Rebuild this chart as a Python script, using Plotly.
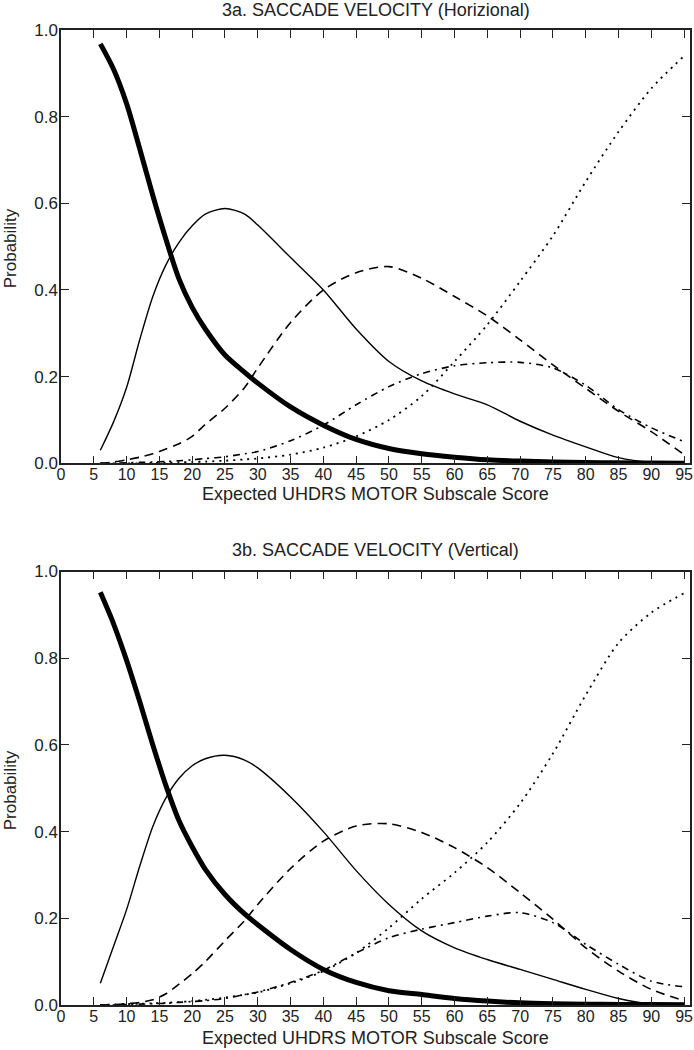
import plotly.graph_objects as go

x_vals = [6, 8, 10, 12, 14, 16, 18, 20, 22, 25, 28, 30, 35, 40, 45, 50, 55, 60, 65, 70, 75, 80, 85, 90, 95]

# Panel 3a (Horizontal)
a_cat1 = [0.968, 0.91, 0.83, 0.726, 0.618, 0.517, 0.425, 0.36, 0.31, 0.25, 0.21, 0.185, 0.13, 0.088, 0.055, 0.034, 0.022, 0.014, 0.008, 0.005, 0.003, 0.002, 0.001, 0.0005, 0.0003]
a_cat2 = [0.03, 0.095, 0.175, 0.285, 0.385, 0.458, 0.51, 0.548, 0.575, 0.588, 0.575, 0.55, 0.475, 0.40, 0.31, 0.235, 0.19, 0.16, 0.135, 0.097, 0.065, 0.038, 0.013, 0.002, 0.0]
a_cat3 = [0.0, 0.003, 0.008, 0.014, 0.022, 0.033, 0.045, 0.062, 0.09, 0.127, 0.175, 0.22, 0.325, 0.40, 0.44, 0.454, 0.427, 0.385, 0.34, 0.285, 0.227, 0.173, 0.12, 0.073, 0.02]
a_cat4 = [0.0, 0.0, 0.001, 0.002, 0.003, 0.004, 0.006, 0.008, 0.011, 0.015, 0.022, 0.027, 0.052, 0.088, 0.135, 0.177, 0.207, 0.225, 0.232, 0.233, 0.22, 0.18, 0.124, 0.082, 0.05]
a_cat5 = [0.0, 0.0, 0.0, 0.0, 0.001, 0.001, 0.002, 0.003, 0.004, 0.006, 0.009, 0.011, 0.02, 0.036, 0.062, 0.10, 0.155, 0.235, 0.32, 0.42, 0.525, 0.65, 0.765, 0.865, 0.94]

# Panel 3b (Vertical)
b_cat1 = [0.952, 0.88, 0.795, 0.70, 0.60, 0.506, 0.425, 0.365, 0.313, 0.255, 0.21, 0.185, 0.128, 0.082, 0.052, 0.033, 0.024, 0.015, 0.009, 0.005, 0.003, 0.002, 0.001, 0.001, 0.0005]
b_cat2 = [0.05, 0.135, 0.22, 0.32, 0.412, 0.478, 0.523, 0.552, 0.568, 0.576, 0.565, 0.547, 0.48, 0.40, 0.31, 0.232, 0.171, 0.132, 0.105, 0.082, 0.059, 0.036, 0.015, 0.002, 0.0]
b_cat3 = [0.0, 0.001, 0.003, 0.006, 0.012, 0.026, 0.048, 0.072, 0.10, 0.148, 0.195, 0.232, 0.315, 0.378, 0.413, 0.418, 0.398, 0.363, 0.317, 0.259, 0.198, 0.132, 0.078, 0.036, 0.01]
b_cat4 = [0.0, 0.0, 0.001, 0.002, 0.003, 0.004, 0.006, 0.008, 0.01, 0.015, 0.024, 0.03, 0.052, 0.08, 0.12, 0.155, 0.175, 0.19, 0.205, 0.213, 0.19, 0.14, 0.094, 0.055, 0.042]
b_cat5 = [0.0, 0.001, 0.002, 0.003, 0.004, 0.005, 0.007, 0.009, 0.012, 0.017, 0.024, 0.029, 0.05, 0.078, 0.12, 0.178, 0.245, 0.305, 0.375, 0.465, 0.58, 0.715, 0.835, 0.905, 0.95]

titles = ["3a. SACCADE VELOCITY (Horizional)", "3b. SACCADE VELOCITY (Vertical)"]
x_title = "Expected UHDRS MOTOR Subscale Score"
y_title = "Probability"
x_ticks = list(range(0, 100, 5))
y_ticks = [0.0, 0.2, 0.4, 0.6, 0.8, 1.0]

styles = [
    dict(width=5, dash="solid"),
    dict(width=1.4, dash="solid"),
    dict(width=1.6, dash="9px,6px"),
    dict(width=1.6, dash="7px,5px,2px,5px"),
    dict(width=1.8, dash="2px,5px"),
]

FONT = "Liberation Sans, Arial, sans-serif"
fig = go.Figure()

panels = [
    ("x", "y", [a_cat1, a_cat2, a_cat3, a_cat4, a_cat5]),
    ("x2", "y2", [b_cat1, b_cat2, b_cat3, b_cat4, b_cat5]),
]
for xa, ya, series in panels:
    for s, st in zip(series, styles):
        fig.add_trace(go.Scatter(
            x=x_vals, y=s, xaxis=xa, yaxis=ya, mode="lines",
            line=dict(color="black", width=st["width"], dash=st["dash"], shape="spline", smoothing=0.8),
            showlegend=False, hoverinfo="skip"))

axis_common = dict(
    showgrid=False, zeroline=False, showline=True, linecolor="#222", linewidth=1.5,
    mirror="ticks", ticks="inside", ticklen=8, tickwidth=1, tickcolor="#222",
)
xfont = dict(family=FONT, size=16, color="#222")
yfont = dict(family=FONT, size=17, color="#222")
top_dom = [0.5556, 1.0]
bot_dom = [0.0, 0.4446]
fig.update_layout(
    width=694, height=1050,
    margin=dict(l=61, r=2, t=30, b=45),
    paper_bgcolor="white", plot_bgcolor="white",
    xaxis=dict(axis_common, range=[0, 95.9], tickvals=x_ticks, domain=[0, 1], anchor="y",
               tickfont=xfont, ticklabelstandoff=-4),
    yaxis=dict(axis_common, range=[0, 1], tickvals=y_ticks, tickformat=".1f", domain=top_dom, anchor="x",
               tickfont=yfont, ticklabelstandoff=-2),
    xaxis2=dict(axis_common, range=[0, 95.9], tickvals=x_ticks, domain=[0, 1], anchor="y2",
                tickfont=xfont, ticklabelstandoff=-4),
    yaxis2=dict(axis_common, range=[0, 1], tickvals=y_ticks, tickformat=".1f", domain=bot_dom, anchor="x2",
                tickfont=yfont, ticklabelstandoff=-2),
)

def py(p):
    return 1 - (p - 30) / 975.0

tf = dict(family=FONT, size=18, color="#222")
ann = [
    dict(text=titles[0], x=0.5, y=py(10), font=tf),
    dict(text=titles[1], x=0.5, y=py(550), font=tf),
    dict(text=x_title, x=0.5, y=py(494), font=tf),
    dict(text=x_title, x=0.5, y=py(1038), font=tf),
    dict(text=y_title, x=(10 - 61) / 632.0, y=py(248), textangle=-90, font=yfont),
    dict(text=y_title, x=(10 - 61) / 632.0, y=py(790), textangle=-90, font=yfont),
]
for a in ann:
    a.update(xref="paper", yref="paper", showarrow=False, xanchor="center", yanchor="middle")
fig.update_layout(annotations=ann)

fig.write_html("out.html", config={"displayModeBar": False},
               post_script="document.body.style.margin='0px';document.body.style.overflow='hidden';")
